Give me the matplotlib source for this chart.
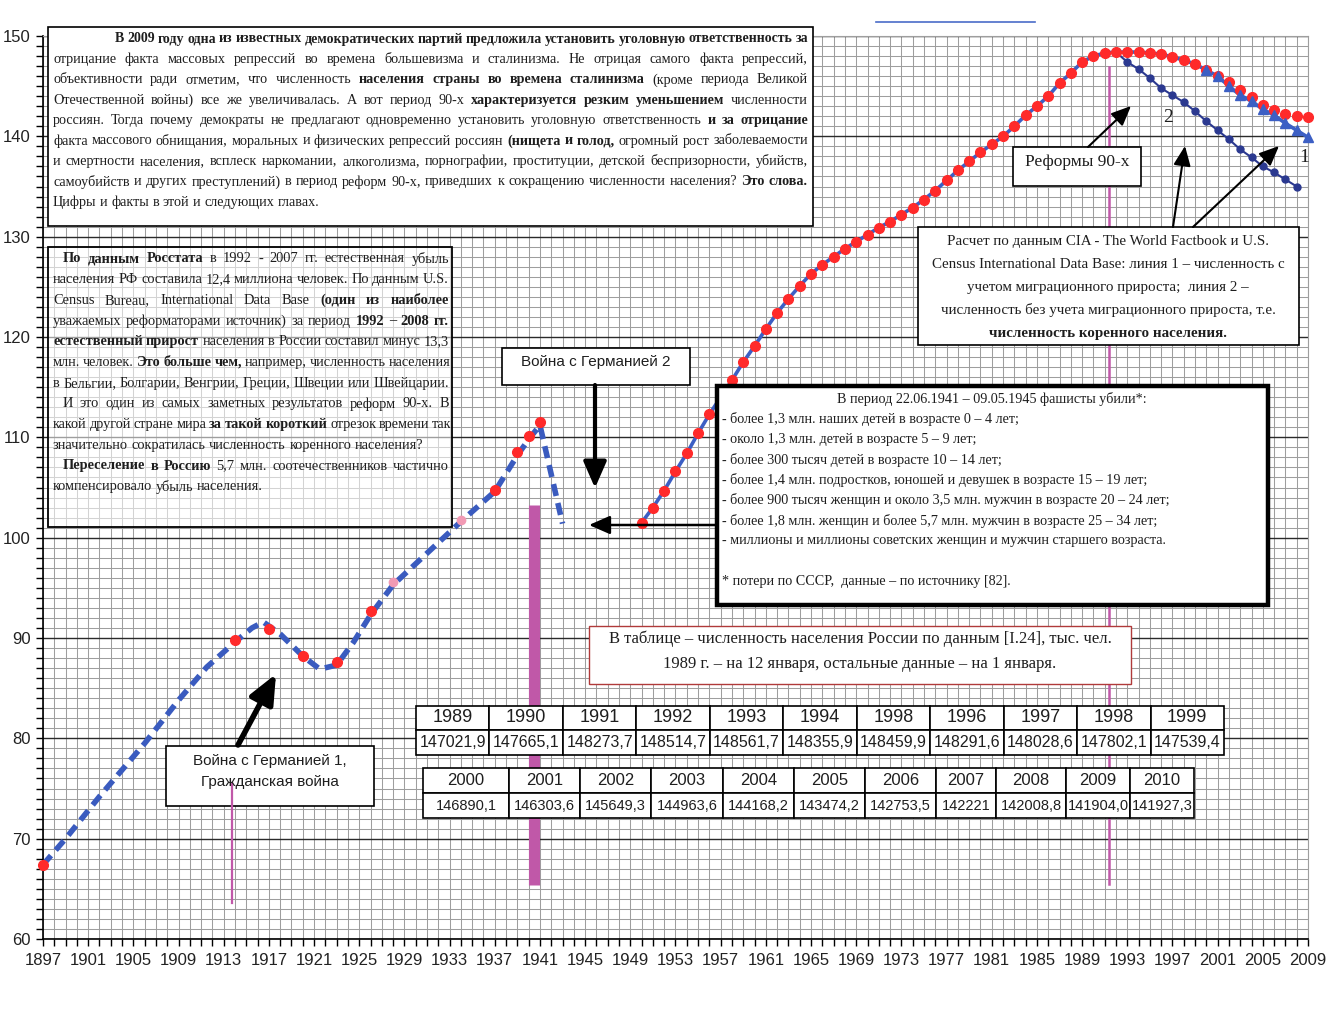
import matplotlib.pyplot as plt
from matplotlib.patches import Rectangle
from matplotlib.lines import Line2D

SERIF = 'Liberation Serif'
SANS = 'Liberation Sans'
INK = '#1e1e1e'
plt.rcParams['font.family'] = [SANS, 'DejaVu Sans']

# population of Russia, million people
prewar_years = [1897, 1899, 1902, 1906, 1909, 1911.5, 1914, 1915.5, 1916.5, 1918, 1920,
                1921.5, 1923, 1924.5, 1926, 1928, 1934, 1937, 1939, 1940, 1941, 1943]
prewar_vals = [67.4, 70.0, 74.2, 79.5, 83.8, 87.1, 89.6, 91.0, 91.6, 90.4, 88.2,
               86.9, 87.3, 89.6, 92.3, 95.3, 101.6, 104.6, 108.2, 109.8, 111.2, 101.4]
prewar_dot_years = [1897, 1914, 1917, 1920, 1923, 1926, 1937, 1939, 1940, 1941]
prewar_dot_vals = [67.4, 89.8, 90.9, 88.2, 87.6, 92.7, 104.8, 108.5, 110.1, 111.5]
faint_dot_years = [1928, 1934]
faint_dot_vals = [95.6, 101.8]

post_years = list(range(1950, 2010))
post_vals = [101.5, 103.0, 104.7, 106.6, 108.4, 110.4, 112.3, 114.0, 115.7, 117.5,
             119.1, 120.8, 122.4, 123.8, 125.1, 126.3, 127.2, 128.0, 128.8, 129.5,
             130.2, 130.9, 131.5, 132.2, 132.9, 133.7, 134.6, 135.6, 136.6, 137.5,
             138.4, 139.2, 140.0, 141.0, 142.1, 143.0, 144.0, 145.3, 146.3, 147.4,
             148.0, 148.3, 148.4, 148.4, 148.4, 148.3, 148.2, 147.9, 147.6, 147.2,
             146.6, 146.0, 145.4, 144.6, 143.9, 143.1, 142.6, 142.2, 142.0, 141.9]

# line 1: with migration (CIA / US Census)
line1_years = list(range(2000, 2010))
line1_vals = [146.6, 146.0, 145.0, 144.1, 143.5, 142.7, 142.1, 141.3, 140.6, 139.9]

# line 2: without migration
line2_years = list(range(1992, 2009))
line2_vals = [148.4, 147.4, 146.7, 145.8, 144.8, 144.1, 143.4, 142.5, 141.5, 140.6,
              139.7, 138.7, 137.9, 137.0, 136.4, 135.7, 135.0]

# war / reform markers
mark_years = [1913.7, 1940.5, 1991.4]
mark_low = [63.6, 65.4, 65.5]
mark_high = [75.5, 103.3, 146.9]

tab1_years = ['1989', '1990', '1991', '1992', '1993', '1994', '1998', '1996', '1997', '1998', '1999']
tab1_vals = ['147021,9', '147665,1', '148273,7', '148514,7', '148561,7', '148355,9',
             '148459,9', '148291,6', '148028,6', '147802,1', '147539,4']
tab2_years = ['2000', '2001', '2002', '2003', '2004', '2005', '2006', '2007', '2008', '2009', '2010']
tab2_vals = ['146890,1', '146303,6', '145649,3', '144963,6', '144168,2', '143474,2',
             '142753,5', '142221', '142008,8', '141904,0', '141927,3']

top_lines = [
    '**В 2009 году одна из известных демократических партий предложила установить уголовную ответственность за**',
    'отрицание факта массовых репрессий во времена большевизма и сталинизма. Не отрицая самого факта репрессий,',
    'объективности ради отметим, что численность **населения страны во времена сталинизма** (кроме периода Великой',
    'Отечественной войны) все же увеличивалась. А вот период 90-х **характеризуется резким уменьшением** численности',
    'россиян. Тогда почему демократы не предлагают одновременно установить уголовную ответственность **и за отрицание**',
    'факта массового обнищания, моральных и физических репрессий россиян **(нищета и голод,** огромный рост заболеваемости',
    'и смертности населения, всплеск наркомании, алкоголизма, порнографии, проституции, детской беспризорности, убийств,',
    'самоубийств и других преступлений) в период реформ 90-х, приведших к сокращению численности населения? **Это слова.**',
    'Цифры и факты в этой и следующих главах.',
]
left_lines = [
    '**По данным Росстата** в 1992 - 2007 гг. естественная убыль',
    'населения РФ составила 12,4 миллиона человек. По данным U.S.',
    'Census Bureau, International Data Base **(один из наиболее**',
    'уважаемых реформаторами источник) за период **1992 – 2008 гг.**',
    '**естественный прирост** населения в России составил минус 13,3',
    'млн. человек. **Это больше чем,** например, численность населения',
    'в Бельгии, Болгарии, Венгрии, Греции, Швеции или Швейцарии.',
    'И это один из самых заметных результатов реформ 90-х. В',
    'какой другой стране мира **за такой короткий** отрезок времени так',
    'значительно сократилась численность коренного населения?',
    '**Переселение в Россию** 5,7 млн. соотечественников частично',
    'компенсировало убыль населения.',
]
ww2_title = 'В период 22.06.1941 – 09.05.1945 фашисты убили*:'
ww2_lines = [
    '- более 1,3 млн. наших детей в возрасте 0 – 4 лет;',
    '- около 1,3 млн. детей в возрасте 5 – 9 лет;',
    '- более 300 тысяч детей в возрасте 10 – 14 лет;',
    '- более 1,4 млн. подростков, юношей и девушек в возрасте 15 – 19 лет;',
    '- более 900 тысяч женщин и около 3,5 млн. мужчин в возрасте 20 – 24 лет;',
    '- более 1,8 млн. женщин и более 5,7 млн. мужчин в возрасте 25 – 34 лет;',
    '- миллионы и миллионы советских женщин и мужчин старшего возраста.',
]
ww2_note = '* потери по СССР,  данные – по источнику [82].'
cia_lines = [
    'Расчет по данным CIA - The World Factbook и U.S.',
    'Census International Data Base: линия 1 – численность с',
    'учетом миграционного прироста;  линия 2 –',
    'численность без учета миграционного прироста, т.е.',
    '**численность коренного населения.**',
]
table_title = ['В таблице – численность населения России по данным [I.24], тыс. чел.',
               '1989 г. – на 12 января, остальные данные – на 1 января.']

W, H = 1335, 1010


def fx(x):
    return x / W


def fy(y):
    return 1 - y / H


fig = plt.figure(figsize=(W / 100, H / 100), dpi=100)
ax = fig.add_axes([fx(43), fy(939), fx(1308) - fx(43), fy(36) - fy(939)])
rend = fig.canvas.get_renderer()

ax.set_xlim(1897, 2009)
ax.set_ylim(60, 150)
ax.set_xticks(range(1897, 2010, 4))
ax.set_xticks(range(1897, 2010), minor=True)
ax.set_yticks(range(60, 151, 10))
ax.set_yticks(range(60, 151), minor=True)
ax.grid(which='minor', color='#9e9e9e', lw=0.75)
ax.grid(which='major', axis='x', color='#9e9e9e', lw=0.75)
ax.grid(which='major', axis='y', color='#2a2a2a', lw=1.0)
ax.set_axisbelow(True)
ax.tick_params(which='both', direction='out', length=5, width=1, colors='black',
               labelsize=12, labelcolor='#222222')
ax.tick_params(axis='x', pad=5)
ax.tick_params(axis='y', pad=4)
for s in ['top', 'right']:
    ax.spines[s].set_color('#9e9e9e')
for s in ['left', 'bottom']:
    ax.spines[s].set_linewidth(1.2)

# markers of wars and reforms
ax.plot([mark_years[0]] * 2, [mark_low[0], mark_high[0]], color='#c058a8', lw=1.6, zorder=7)
ax.plot([mark_years[1]] * 2, [mark_low[1], mark_high[1]], color='#c058a8', lw=8, zorder=2,
        solid_capstyle='butt')
ax.plot([mark_years[2]] * 2, [mark_low[2], mark_high[2]], color='#c058a8', lw=1.8, zorder=2)

# curves
ax.plot(prewar_years, prewar_vals, color='#3a5bbf', lw=4, ls=(0, (2.2, 1.3)), zorder=3)
ax.plot(prewar_dot_years, prewar_dot_vals, 'o', color='#ff2a2a', ms=7, zorder=4, clip_on=False)
ax.plot(faint_dot_years, faint_dot_vals, 'o', color='#f29ab4', ms=6, zorder=4)

main_years = post_years[:50] + line1_years
main_vals = post_vals[:50] + line1_vals
ax.plot(main_years, main_vals, color='#3c5fc4', lw=2.6, zorder=3)
ax.plot(line2_years, line2_vals, color='#2b3990', lw=1.5, marker='o', ms=5, zorder=3)
ax.plot(post_years, post_vals, 'o', color='#ff2a2a', ms=7, zorder=4, clip_on=False)
ax.plot(line1_years, line1_vals, '^', color='#3c5fc4', ms=7, zorder=4, clip_on=False)


def box(x0, y0, x1, y1, lw=1.0, ec='black', fc='white', alpha=1.0, z=5):
    ax.add_patch(Rectangle((fx(x0), fy(y1)), fx(x1) - fx(x0), fy(y0) - fy(y1),
                           transform=fig.transFigure, lw=lw, ec=ec, fc=fc, alpha=alpha,
                           zorder=z, clip_on=False))


def words_of(line):
    out = []
    for i, part in enumerate(line.split('**')):
        w = 'bold' if i % 2 else 'normal'
        out += [(wd, w) for wd in part.split()]
    return out


def put_line(x0, x1, y, line, size, justify=True, family=SERIF):
    words = words_of(line)
    arts = [fig.text(0, fy(y), wd, fontsize=size, fontweight=w, family=family,
                     va='center', ha='left', color=INK) for wd, w in words]
    space = size * 100 / 72 * 0.25
    widths = [a.get_window_extent(rend).width for a in arts]
    need = sum(widths) + space * 0.8 * (len(words) - 1)
    if need > x1 - x0:
        k = (x1 - x0) / need
        for a in arts:
            a.set_fontsize(size * k)
        widths = [a.get_window_extent(rend).width for a in arts]
        space *= k
    if justify and len(words) > 1:
        gap = max((x1 - x0 - sum(widths)) / (len(words) - 1), space * 0.8)
    else:
        gap = space
    x = x0
    for a, wd in zip(arts, widths):
        a.set_x(fx(x))
        x += wd + gap


# top text box
box(48, 27, 813, 226, lw=1.2)
for i, line in enumerate(top_lines):
    put_line(115 if i == 0 else 53, 808, 39 + 20.4 * i, line, 10.2,
             justify=i < len(top_lines) - 1)

# left text box
box(48, 247, 452, 527, lw=1.2, fc='white', alpha=0.55)
box(48, 247, 452, 527, lw=1.2, fc='none')
indent = {0, 7, 10}
no_just = {9, 11}
for i, line in enumerate(left_lines):
    put_line(63 if i in indent else 53, 449, 259 + 20.7 * i, line, 10.4,
             justify=i not in no_just)

# WWII box
box(717, 386, 1268, 605, lw=3.2)
fig.text(fx(992), fy(399), ww2_title, fontsize=10.2, family=SERIF, ha='center', va='center', color=INK)
for i, line in enumerate(ww2_lines):
    fig.text(fx(722), fy(419 + 20.3 * i), line, fontsize=10.2, family=SERIF, ha='left',
             va='center', color=INK)
fig.text(fx(722), fy(582), ww2_note, fontsize=10.2, family=SERIF, ha='left', va='center', color=INK)

# CIA box
box(918, 227, 1299, 345, lw=1.2)
for i, line in enumerate(cia_lines):
    bold = line.startswith('**')
    fig.text(fx(1108), fy(241 + 23 * i), line.strip('*'), fontsize=10.8, family=SERIF,
             fontweight='bold' if bold else 'normal', ha='center', va='center', color=INK)

# reforms box
box(1013, 147, 1141, 186, lw=1.2)
fig.text(fx(1077), fy(162), 'Реформы 90-х', fontsize=12.5, family=SERIF, ha='center', va='center', color=INK)
fig.text(fx(1168), fy(118), '2', fontsize=14, family=SERIF, ha='center', va='center', color=INK)
fig.text(fx(1304), fy(158), '1', fontsize=14, family=SERIF, ha='center', va='center', color=INK)

# war boxes
box(502, 348, 690, 385, lw=1.2)
fig.text(fx(596), fy(362), 'Война с Германией 2', fontsize=11, family=SANS, ha='center', va='center', color=INK)
box(166, 746, 374, 806, lw=1.2)
fig.text(fx(270), fy(761), 'Война с Германией 1,', fontsize=11, family=SANS, ha='center', va='center', color=INK)
fig.text(fx(270), fy(782), 'Гражданская война', fontsize=11, family=SANS, ha='center', va='center', color=INK)

# table title
box(589, 626, 1131, 684, lw=1.0, ec='#b03a3a')
for i, line in enumerate(table_title):
    fig.text(fx(860), fy(639 + 25 * i), line, fontsize=12, family=SERIF, ha='center',
             va='center', color=INK)


def table(edges, top, mid, bot, years, vals, size):
    for i in range(len(years)):
        x0, x1 = edges[i], edges[i + 1]
        box(x0, top, x1, mid, lw=1.2)
        box(x0, mid, x1, bot, lw=1.2)
        fig.text(fx((x0 + x1) / 2), fy((top + mid) / 2), years[i], fontsize=size + 1.5,
                 family=SANS, ha='center', va='center', color=INK)
        fig.text(fx((x0 + x1) / 2), fy((mid + bot) / 2), vals[i], fontsize=size,
                 family=SANS, ha='center', va='center', color=INK)


edges1 = [416 + 73.45 * i for i in range(12)]
edges2 = [423, 509, 580, 651, 723, 794, 865, 936, 996, 1066, 1130, 1194]
table(edges1, 706, 730, 755, tab1_years, tab1_vals, 11.5)
table(edges2, 768, 793, 818, tab2_years, tab2_vals, 10.5)


def arrow(tail, head, lw, scale):
    ax.annotate('', xy=(fx(head[0]), fy(head[1])), xycoords='figure fraction',
                xytext=(fx(tail[0]), fy(tail[1])), textcoords='figure fraction',
                arrowprops=dict(arrowstyle='-|>,head_length=0.8,head_width=0.35', lw=lw,
                                color='black', shrinkA=0, shrinkB=0, mutation_scale=scale),
                annotation_clip=False, zorder=6)


arrow((238, 745), (276, 674), 4.0, 22)
arrow((595, 385), (595, 488), 3.0, 20)
arrow((717, 525), (589, 525), 1.8, 16)
arrow((1088, 147), (1131, 106), 1.5, 15)
arrow((1173, 227), (1185, 146), 1.5, 15)
arrow((1193, 227), (1279, 146), 1.5, 15)

# remnant of a legend line above the plot
fig.add_artist(Line2D([fx(876), fx(1035)], [fy(22), fy(22)], color='#4a6cc8', lw=1.2,
                      transform=fig.transFigure))

fig.savefig('out.png', dpi=100)
